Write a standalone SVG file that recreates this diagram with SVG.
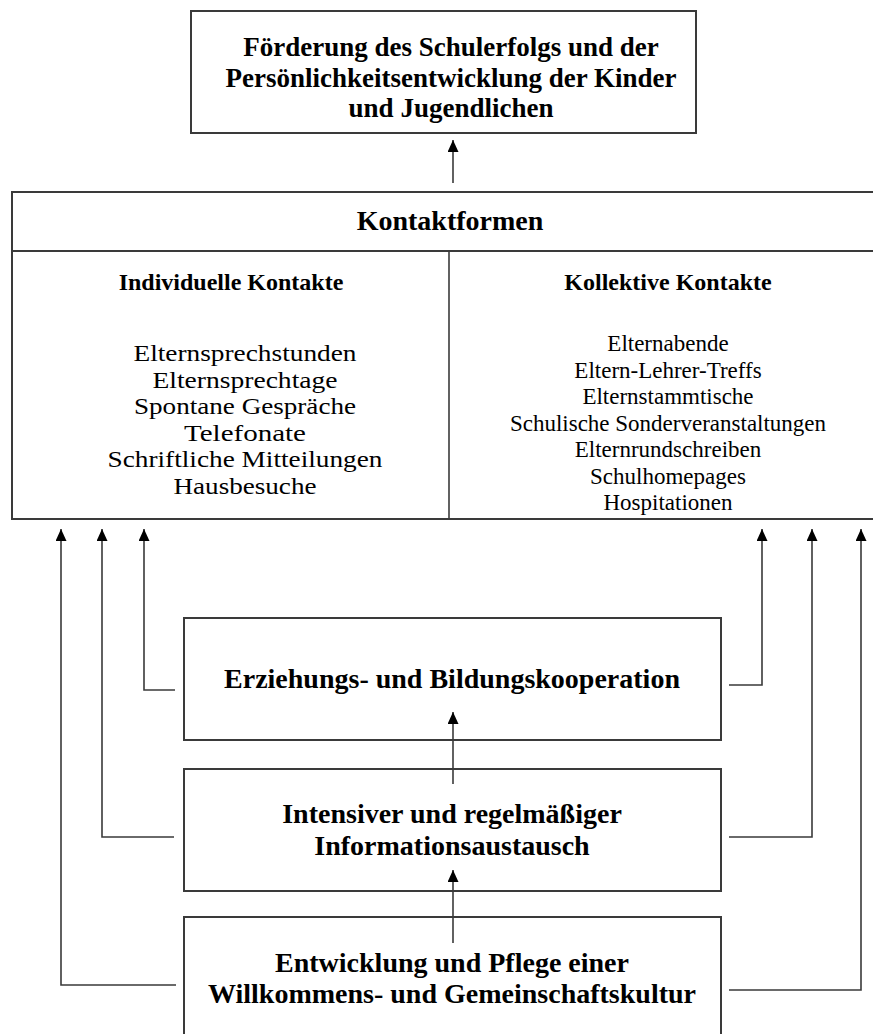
<svg xmlns="http://www.w3.org/2000/svg" width="873" height="1034" viewBox="0 0 873 1034">
<defs>
<style>
.box{fill:#fff;stroke:#3a3a3a;stroke-width:2}
.ln{fill:none;stroke:#3a3a3a;stroke-width:1.6}
.b{font-family:"Liberation Serif","Times New Roman",serif;font-weight:bold;fill:#000;text-anchor:middle}
.r{font-family:"Liberation Serif","Times New Roman",serif;fill:#000;text-anchor:middle;font-size:23px}
</style>
<marker id="ah" markerUnits="userSpaceOnUse" markerWidth="12" markerHeight="11" refX="12" refY="5.5" orient="auto">
<path d="M0,0 L12,5.5 L0,11 z" fill="#000"/>
</marker>
</defs>
<rect width="873" height="1034" fill="#fff"/>
<g id="goal">
<rect class="box" x="191" y="11" width="505" height="122"/>
<text class="b" font-size="27" x="451" y="56">Förderung des Schulerfolgs und der</text>
<text class="b" font-size="27" x="451" y="87">Persönlichkeitsentwicklung der Kinder</text>
<text class="b" font-size="27" x="451" y="117">und Jugendlichen</text>
</g>
<g id="kontaktformen">
<path class="box" d="M874,192 H12 V519 H874"/>
<line class="ln" x1="12" y1="251" x2="873" y2="251" style="stroke-width:2"/>
<line class="ln" x1="449" y1="251" x2="449" y2="519"/>
<text class="b" font-size="28" x="450" y="230">Kontaktformen</text>
</g>
<g id="individuell">
<text class="b" font-size="24" x="231" y="290">Individuelle Kontakte</text>
<text class="r" x="245" y="361" textLength="223" lengthAdjust="spacingAndGlyphs">Elternsprechstunden</text>
<text class="r" x="245" y="387.5" textLength="185" lengthAdjust="spacingAndGlyphs">Elternsprechtage</text>
<text class="r" x="245" y="414" textLength="222" lengthAdjust="spacingAndGlyphs">Spontane Gespräche</text>
<text class="r" x="245" y="440.5" textLength="122" lengthAdjust="spacingAndGlyphs">Telefonate</text>
<text class="r" x="245" y="467" textLength="275" lengthAdjust="spacingAndGlyphs">Schriftliche Mitteilungen</text>
<text class="r" x="245" y="493.5" textLength="143" lengthAdjust="spacingAndGlyphs">Hausbesuche</text>
</g>
<g id="kollektiv">
<text class="b" font-size="24" x="668" y="290">Kollektive Kontakte</text>
<text class="r" x="668" y="351">Elternabende</text>
<text class="r" x="668" y="377.5">Eltern-Lehrer-Treffs</text>
<text class="r" x="668" y="404">Elternstammtische</text>
<text class="r" x="668" y="430.5">Schulische Sonderveranstaltungen</text>
<text class="r" x="668" y="457">Elternrundschreiben</text>
<text class="r" x="668" y="483.5">Schulhomepages</text>
<text class="r" x="668" y="510">Hospitationen</text>
</g>
<g id="kooperation">
<rect class="box" x="184" y="618" width="537" height="122"/>
<text class="b" font-size="28" x="452" y="688">Erziehungs- und Bildungskooperation</text>
</g>
<g id="informationsaustausch">
<rect class="box" x="184" y="769" width="537" height="122"/>
<text class="b" font-size="28" x="452" y="823">Intensiver und regelmäßiger</text>
<text class="b" font-size="28" x="452" y="855">Informationsaustausch</text>
</g>
<g id="willkommenskultur">
<path class="box" d="M184,1040 V917 H721 V1040"/>
<text class="b" font-size="28" x="452" y="972">Entwicklung und Pflege einer</text>
<text class="b" font-size="28" x="452" y="1003">Willkommens- und Gemeinschaftskultur</text>
</g>
<g id="connectors">
<line class="ln" x1="453" y1="183" x2="453" y2="140" marker-end="url(#ah)"/>
<line class="ln" x1="453" y1="784" x2="453" y2="712" marker-end="url(#ah)"/>
<line class="ln" x1="453" y1="943" x2="453" y2="870" marker-end="url(#ah)"/>
<polyline class="ln" points="175,690 144,690 144,529" marker-end="url(#ah)"/>
<polyline class="ln" points="174,837 102,837 102,529" marker-end="url(#ah)"/>
<polyline class="ln" points="176,985 61,985 61,529" marker-end="url(#ah)"/>
<polyline class="ln" points="729,685 762,685 762,529" marker-end="url(#ah)"/>
<polyline class="ln" points="729,837 812,837 812,529" marker-end="url(#ah)"/>
<polyline class="ln" points="729,990 861,990 861,529" marker-end="url(#ah)"/>
</g>
</svg>
